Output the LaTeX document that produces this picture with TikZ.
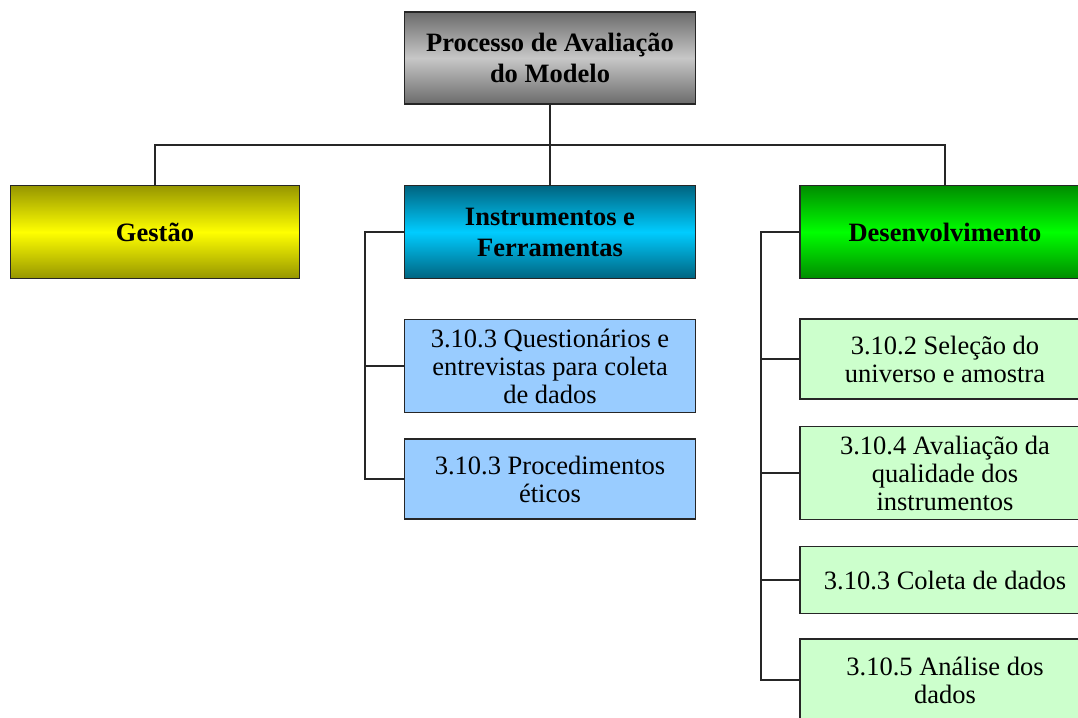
\documentclass[tikz,border=0pt]{standalone}
\usepackage{fontspec}
\setmainfont{Liberation Serif}
\begin{document}
\begin{tikzpicture}[x=1pt,y=-1pt,
  box/.style={draw=black!85, line width=1.6pt, align=center, inner sep=0pt},
  head/.style={box, font=\fontsize{26.5}{31}\selectfont\bfseries},
  sub/.style={box, font=\fontsize{26.5}{28}\selectfont},
  graybox/.style={head, top color=black!58, bottom color=black!58, middle color=black!22},
  yellowbox/.style={head, top color={rgb,255:red,150;green,150;blue,0}, bottom color={rgb,255:red,150;green,150;blue,0}, middle color={rgb,255:red,255;green,255;blue,0}},
  cyanbox/.style={head, top color={rgb,255:red,0;green,100;blue,128}, bottom color={rgb,255:red,0;green,100;blue,128}, middle color={rgb,255:red,0;green,204;blue,255}},
  greenbox/.style={head, top color={rgb,255:red,0;green,140;blue,0}, bottom color={rgb,255:red,0;green,140;blue,0}, middle color={rgb,255:red,0;green,255;blue,0}},
  bluesub/.style={sub, fill={rgb,255:red,153;green,204;blue,255}},
  greensub/.style={sub, fill={rgb,255:red,204;green,255;blue,204}},
  conn/.style={draw=black!85, line width=2pt}]
\useasboundingbox (0,0) rectangle (1078,717);
\clip (0,0) rectangle (1078,717);
\node[graybox, minimum width=291pt, minimum height=92pt] (top) at (550,58) {Processo de Avaliação\\do Modelo};
\node[yellowbox, minimum width=289pt, minimum height=93pt] (gestao) at (155,232) {Gestão};
\node[cyanbox, minimum width=291pt, minimum height=93pt] (instr) at (550,232) {Instrumentos e\\Ferramentas};
\node[greenbox, minimum width=290pt, minimum height=93pt] (desenv) at (945,232) {Desenvolvimento};
\node[bluesub, minimum width=291pt, minimum height=93pt] (q1) at (550,366) {3.10.3 Questionários e\\entrevistas para coleta\\de dados};
\node[bluesub, minimum width=291pt, minimum height=80pt] (q2) at (550,479) {3.10.3 Procedimentos\\éticos};
\node[greensub, minimum width=290pt, minimum height=80pt] (d1) at (945,359) {3.10.2 Seleção do\\universo e amostra};
\node[greensub, minimum width=290pt, minimum height=93pt] (d2) at (945,473) {3.10.4 Avaliação da\\qualidade dos\\instrumentos};
\node[greensub, minimum width=290pt, minimum height=67pt] (d3) at (945,580) {3.10.3 Coleta de dados};
\node[greensub, minimum width=290pt, minimum height=82pt] (d4) at (945,680) {3.10.5 Análise dos\\dados};
\coordinate (hb) at (550,145);
\coordinate (ib) at (365,232);
\coordinate (db) at (761,232);
\draw[conn] (top.south) -- (instr.north);
\draw[conn] (gestao.north) -- (gestao.north |- hb) -- (desenv.north |- hb) -- (desenv.north);
\draw[conn] (instr.west) -- (ib) |- (q2.west);
\draw[conn] (ib |- q1.west) -- (q1.west);
\draw[conn] (desenv.west) -- (db) |- (d4.west);
\draw[conn] (db |- d1.west) -- (d1.west);
\draw[conn] (db |- d2.west) -- (d2.west);
\draw[conn] (db |- d3.west) -- (d3.west);
\end{tikzpicture}
\end{document}
